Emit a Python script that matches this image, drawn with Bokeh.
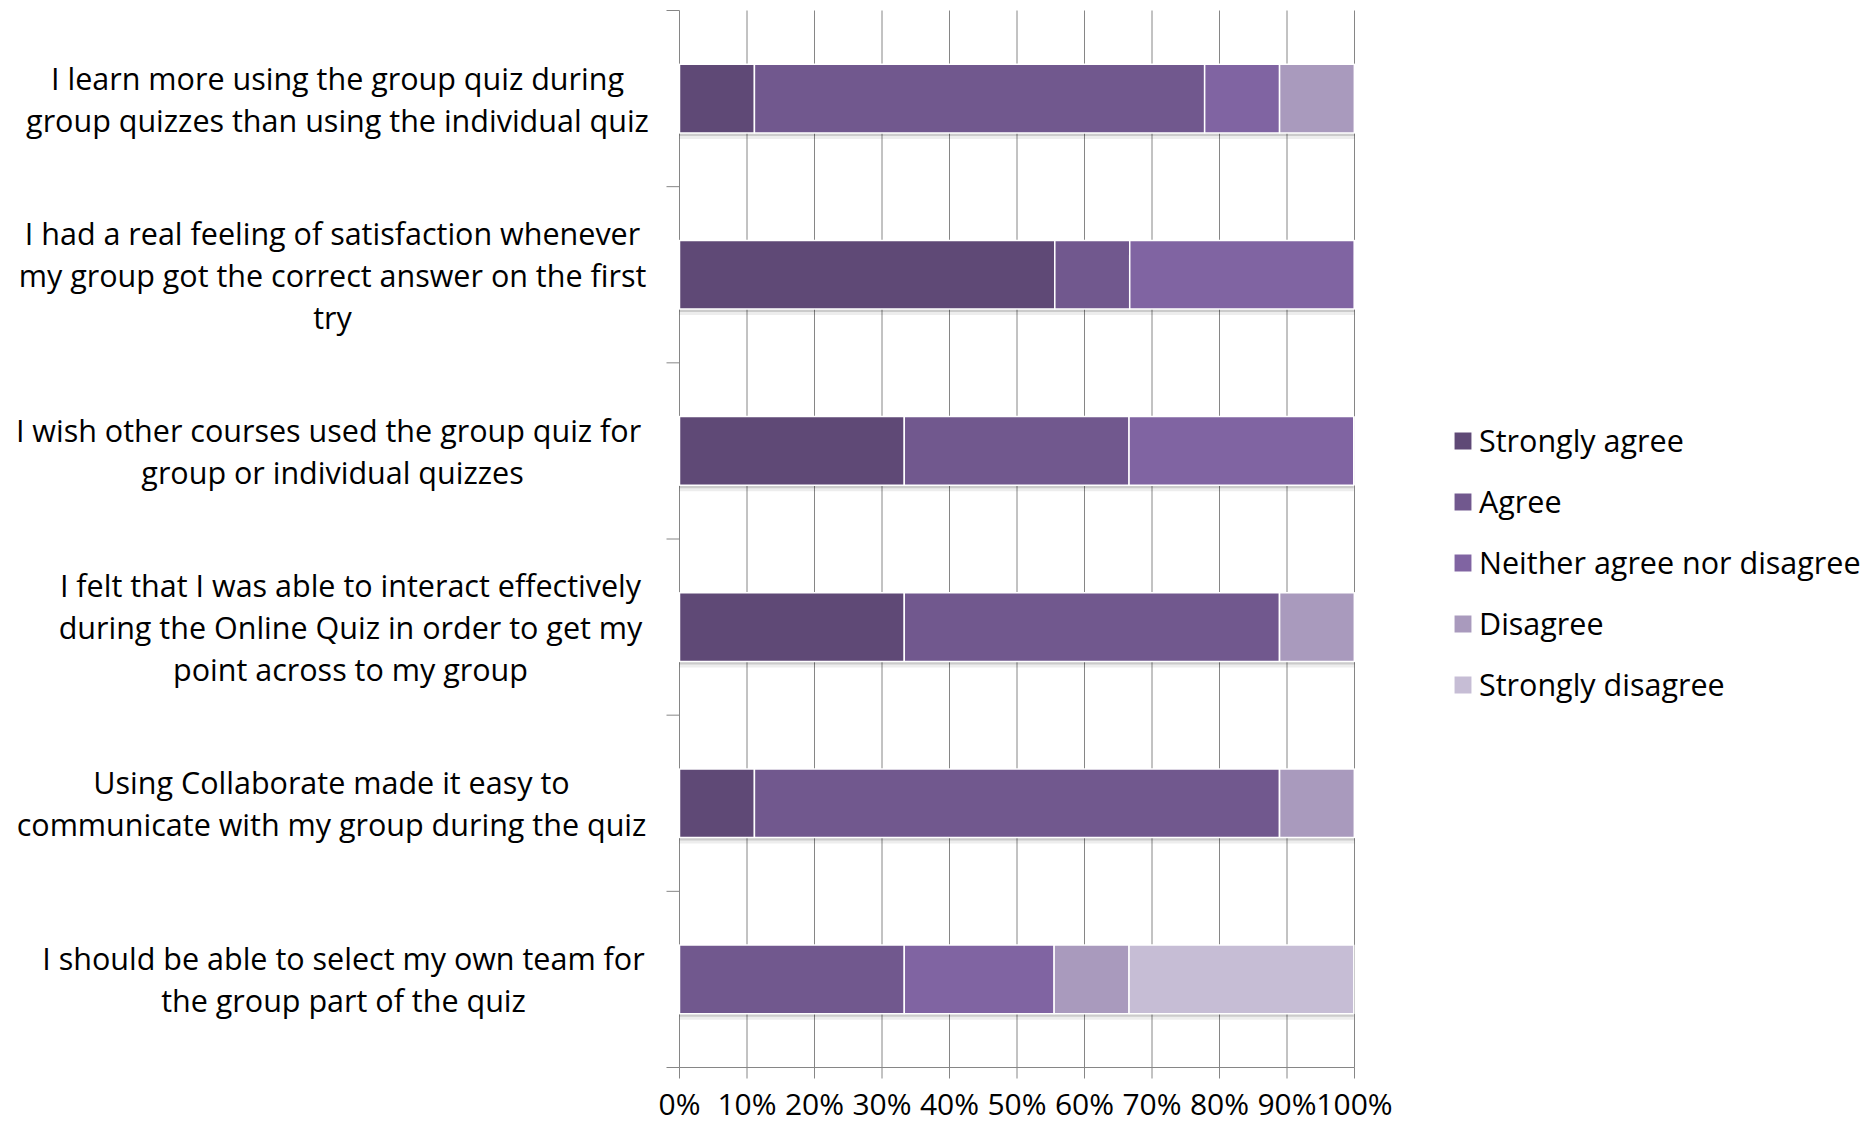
from bokeh.plotting import figure
from bokeh.models import Range1d, Legend, LegendItem, ColumnDataSource
from bokeh.embed import file_html
from bokeh.resources import INLINE
from bokeh.core.properties import value

# ---------------- data ----------------
questions = [
    "I learn more using the group quiz during\ngroup quizzes than using the individual quiz",
    "I had a real feeling of satisfaction whenever\nmy group got the correct answer on the first\ntry",
    "I wish other courses used the group quiz  for\ngroup or individual quizzes",
    "I felt that I was able to interact effectively\nduring the Online Quiz in order to get my\npoint across to my group",
    "Using Collaborate made it easy to\ncommunicate with my group during the quiz",
    "I should be able to select my own team for\nthe group part of the quiz",
]
strongly_agree = [11.1, 55.6, 33.3, 33.3, 11.1, 0.0]
agree = [66.7, 11.1, 33.3, 55.6, 77.8, 33.3]
neither = [11.1, 33.3, 33.3, 0.0, 0.0, 22.2]
disagree = [11.1, 0.0, 0.0, 11.1, 11.1, 11.1]
strongly_disagree = [0.0, 0.0, 0.0, 0.0, 0.0, 33.3]

levels = ["Strongly agree", "Agree", "Neither agree nor disagree",
          "Disagree", "Strongly disagree"]
x_ticks = [0, 10, 20, 30, 40, 50, 60, 70, 80, 90, 100]
x_tick_labels = ["0%", "10%", "20%", "30%", "40%", "50%", "60%", "70%", "80%", "90%", "100%"]

# ---------------- styling / layout (pixels) ----------------
W, H = 1870, 1123
PL, PR, PT, PB = 679, 1354, 10, 1067          # plot-area edges
colors = ["#5F4976", "#71588E", "#8064A2", "#A99ABD", "#C6BDD5"]
FONT = "Open Sans"
FSIZE = "30.5px"
TICK_FSIZE = "30px"
GRID = "#868686"
label_center_px = [337, 332, 332, 350, 331, 343]   # x-centre of each label block

n = len(questions)
XMAX = 100.0
sx = (PR - PL) / XMAX            # px per x unit
sy = (PB - PT) / n               # px per y unit
x_range = Range1d(-PL / sx, (W - PL) / sx)
y_range = Range1d(-(H - PB) / sy, n + PT / sy)

def px_x(px):
    return (px - PL) / sx

def px_y(py):
    return (PB - py) / sy

ypos = [n - 0.5 - i for i in range(n)]
keys = ["sa", "a", "n", "d", "sd"]
totals = [a + b + c + d + e for a, b, c, d, e in
          zip(strongly_agree, agree, neither, disagree, strongly_disagree)]
src = ColumnDataSource(dict(y=ypos, sa=strongly_agree, a=agree, n=neither,
                            d=disagree, sd=strongly_disagree, total=totals,
                            ys1=[y - 3 / sy for y in ypos], ys2=[y - 6 / sy for y in ypos]))

p = figure(width=W, height=H, x_range=x_range, y_range=y_range,
           output_backend="svg", toolbar_location=None,
           x_axis_location=None, y_axis_location=None,
           min_border=0)
p.outline_line_color = None
p.grid.visible = False

# vertical grid lines (drawn behind bars)
p.segment(x0=x_ticks[1:], y0=0, x1=x_ticks[1:], y1=n, line_color=GRID, line_width=1)
# left axis line + ticks at category boundaries
p.segment(x0=0, y0=0, x1=0, y1=n, line_color=GRID, line_width=1)
bounds = list(range(n + 1))
p.segment(x0=px_x(PL - 13), y0=bounds, x1=0, y1=bounds, line_color=GRID, line_width=1)
# bottom axis line + ticks
p.segment(x0=0, y0=0, x1=XMAX, y1=0, line_color=GRID, line_width=1)
p.segment(x0=x_ticks, y0=0, x1=x_ticks, y1=-11 / sy, line_color=GRID, line_width=1)
p.text(x=x_ticks, y=px_y(1123), text=x_tick_labels, text_align="center",
       text_baseline="bottom", text_font=value(FONT), text_font_size=TICK_FSIZE,
       text_color="black")

BAR_H = 0.39
# soft shadow below the bars
p.hbar(y="ys2", left=0, right="total", height=BAR_H, source=src,
       fill_color="black", fill_alpha=0.07, line_color=None)
p.hbar(y="ys1", left=0, right="total", height=BAR_H, source=src,
       fill_color="black", fill_alpha=0.14, line_color=None)

rends = p.hbar_stack(keys, y="y", height=BAR_H, source=src, color=colors,
                     line_color="white", line_width=1.5)

# category labels
p.text(x=[px_x(c) for c in label_center_px], y=ypos, text=questions,
       text_align="center", text_baseline="middle", text_font=value(FONT),
       text_font_size=FSIZE, text_color="black", text_line_height=1.0)

legend = Legend(items=[LegendItem(label=l, renderers=[r]) for l, r in zip(levels, rends)],
                location=(1451, H - 705), padding=0, margin=0, border_line_color=None,
                background_fill_alpha=0, glyph_width=23, glyph_height=23,
                label_height=42, spacing=19, label_standoff=5,
                label_text_font=FONT, label_text_font_size=FSIZE, label_text_color="black")
p.add_layout(legend)

open("out.html", "w").write(file_html(p, INLINE))
